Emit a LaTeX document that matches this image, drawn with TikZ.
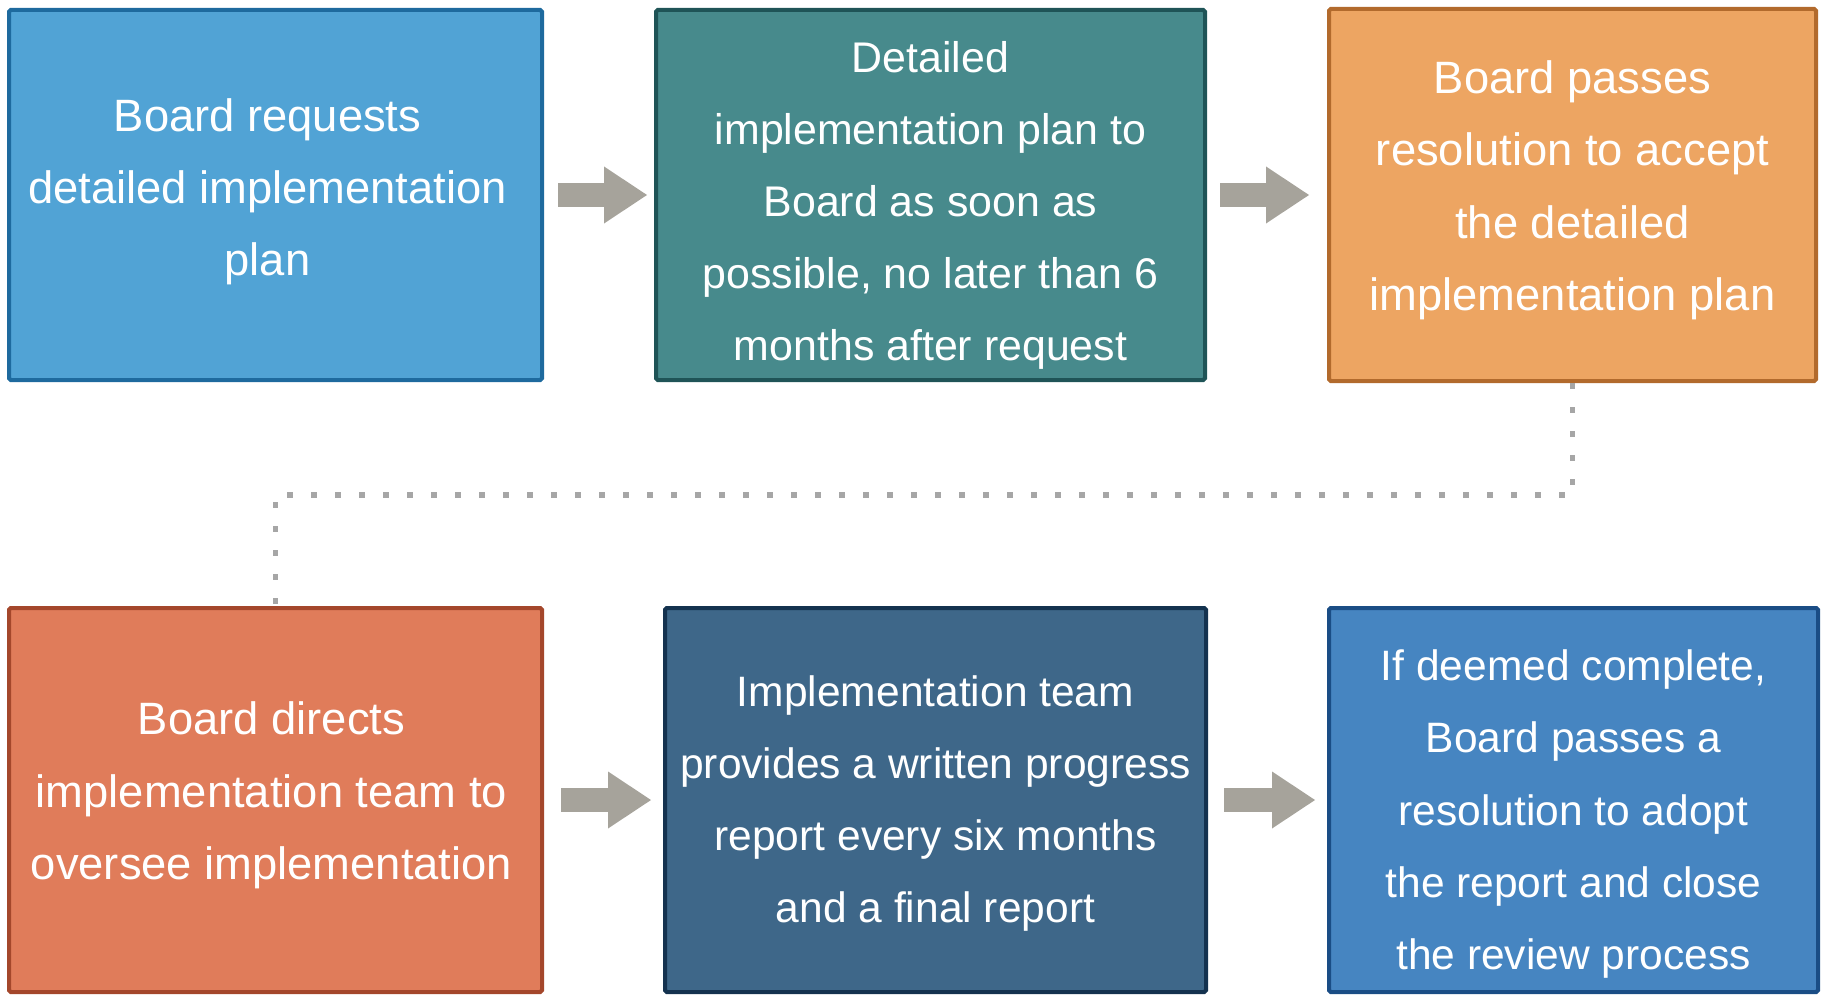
\documentclass[tikz,border=0pt]{standalone}
\usepackage{fontspec}
\setmainfont{Liberation Sans}
\usepackage{xcolor}
\usetikzlibrary{positioning,arrows.meta}

\definecolor{reqfill}{HTML}{51A3D5}
\definecolor{reqline}{HTML}{1E6A9E}
\definecolor{planfill}{HTML}{478A8C}
\definecolor{planline}{HTML}{1F5457}
\definecolor{accfill}{HTML}{EDA562}
\definecolor{accline}{HTML}{B26A2C}
\definecolor{dirfill}{HTML}{E07C5A}
\definecolor{dirline}{HTML}{A4472B}
\definecolor{repfill}{HTML}{3E6789}
\definecolor{repline}{HTML}{14324F}
\definecolor{adpfill}{HTML}{4685C1}
\definecolor{adpline}{HTML}{1A4D85}
\definecolor{arrowgray}{HTML}{A6A39B}
\definecolor{dotgray}{HTML}{A6A6A6}

\begin{document}
\begin{tikzpicture}[
stepbox/.style={draw,rectangle,line width=0.4mm,rounded corners=0.5pt,inner sep=0pt},
steptext/.style={text=white,align=center,inner sep=0pt,
    font=\fontsize{#1}{20.5}\selectfont},
blockarrow/.style={draw=arrowgray,line width=2.34mm,
    -{Triangle[length=4.3mm,width=5.7mm,line width=0pt,fill=arrowgray]}},
dotline/.style={draw=dotgray,line width=0.55mm,dash pattern=on 0.55mm off 1.85mm}]
\useasboundingbox (0,0) rectangle (18.25,-9.96);

\node (req) [stepbox,fill=reqfill,draw=reqline,
    minimum width=5.33cm,minimum height=3.70cm] at (2.755,-1.95) {};
\node (plan) [stepbox,fill=planfill,draw=planline,
    minimum width=5.49cm,minimum height=3.70cm,right=1.1cm of req] {};
\node (accept) [stepbox,fill=accfill,draw=accline,
    minimum width=4.87cm,minimum height=3.72cm,right=1.2cm of plan] {};

\node (directs) [stepbox,fill=dirfill,draw=dirline,
    minimum width=5.33cm,minimum height=3.84cm,below=2.24cm of req] {};
\node (report) [stepbox,fill=repfill,draw=repline,
    minimum width=5.41cm,minimum height=3.84cm,right=1.19cm of directs] {};
\node (adopt) [stepbox,fill=adpfill,draw=adpline,
    minimum width=4.89cm,minimum height=3.84cm,right=1.19cm of report] {};

% texts, a little off centre as in the original
\node (reqtext) [steptext=12.9] at ([xshift=-0.8mm,yshift=0.35mm]req.center)
    {Board requests\\detailed implementation\\plan};
\node (plantext) [steptext=12.2] at ([yshift=-1.05mm]plan.center)
    {Detailed\\implementation plan to\\Board as soon as\\possible, no later than 6\\months after request};
\node (accepttext) [steptext=12.9] at ([yshift=0.47mm]accept.center)
    {Board passes\\resolution to accept\\the detailed\\implementation plan};
\node (directstext) [steptext=12.9] at ([xshift=-0.4mm,yshift=0.47mm]directs.center)
    {Board directs\\implementation team to\\oversee implementation};
\node (reporttext) [steptext=12.1] at ([yshift=-0.35mm]report.center)
    {Implementation team\\provides a written progress\\report every six months\\and a final report};
\node (adopttext) [steptext=12.1] at ([yshift=-1.4mm]adopt.center)
    {If deemed complete,\\Board passes a\\resolution to adopt\\the report and close\\the review process};

% arrows between the steps
\draw[blockarrow,shorten <=1.4mm,shorten >=0.7mm] (req) -- (plan);
\draw[blockarrow,shorten <=1.3mm,shorten >=1.8mm] (plan) -- (accept);
\draw[blockarrow,shorten <=1.7mm,shorten >=1.2mm] (directs) -- (report);
\draw[blockarrow,shorten <=1.6mm,shorten >=1.2mm] (report) -- (adopt);

% second row
\draw[dotline] (accept.south) -- ++(0,-1.12) -| (directs.north);
\end{tikzpicture}
\end{document}
